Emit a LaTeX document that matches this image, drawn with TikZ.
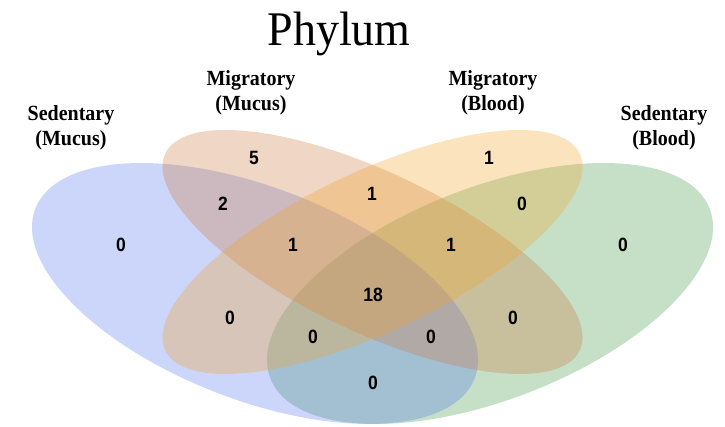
\documentclass[tikz,border=0pt]{standalone}
\usepackage{fontspec}
\setmainfont{Liberation Serif}
\newfontfamily\countfont{Liberation Sans}
\definecolor{setblue}{RGB}{85,118,238}
\definecolor{setorange}{RGB}{205,118,58}
\definecolor{setyellow}{RGB}{242,162,38}
\definecolor{setgreen}{RGB}{65,152,72}
\begin{document}
\begin{tikzpicture}[x=1pt,y=1pt,
  venn/.style={fill opacity=0.3},
  setname/.style={align=center,yscale=1.08,font=\bfseries\fontsize{20}{23}\selectfont},
  count/.style={yscale=1.1,font=\countfont\bfseries\fontsize{17.5}{17.5}\selectfont}]
\useasboundingbox (0,0) rectangle (725,427);

% the four sets
\fill[venn,setgreen,shift={(490,133.5)},rotate=21.1] (0,0) ellipse [x radius=235.5,y radius=106.3];
\fill[venn,setblue,shift={(255,133.5)},rotate=-21.1] (0,0) ellipse [x radius=235.5,y radius=106.3];
\fill[venn,setorange,shift={(372.5,175)},rotate=-25.4] (0,0) ellipse [x radius=229.4,y radius=79.8];
\fill[venn,setyellow,shift={(372.5,175)},rotate=25.4] (0,0) ellipse [x radius=229.4,y radius=79.8];

% title and set names
\node[anchor=base,yscale=1.05,font=\fontsize{46}{50}\selectfont] (title) at (339,381) {Phylum};
\node[setname] (sm) at (71,299.5) {Sedentary\\(Mucus)};
\node[setname] (mm) at (251,334.5) {Migratory\\(Mucus)};
\node[setname] (mb) at (493,334.5) {Migratory\\(Blood)};
\node[setname] (sb) at (664,299.5) {Sedentary\\(Blood)};

% region counts
\node[count] (n1)  at (121,182) {0};
\node[count] (n2)  at (254,269) {5};
\node[count] (n3)  at (489,269) {1};
\node[count] (n4)  at (623,182) {0};
\node[count] (n5)  at (223,223) {2};
\node[count] (n6)  at (372,233) {1};
\node[count] (n7)  at (522,223) {0};
\node[count] (n8)  at (293,182) {1};
\node[count] (n9)  at (451,182) {1};
\node[count] (n10) at (373,132) {18};
\node[count] (n11) at (230,109) {0};
\node[count] (n12) at (513,109) {0};
\node[count] (n13) at (313,90) {0};
\node[count] (n14) at (431,90) {0};
\node[count] (n15) at (373,44) {0};
\end{tikzpicture}
\end{document}
